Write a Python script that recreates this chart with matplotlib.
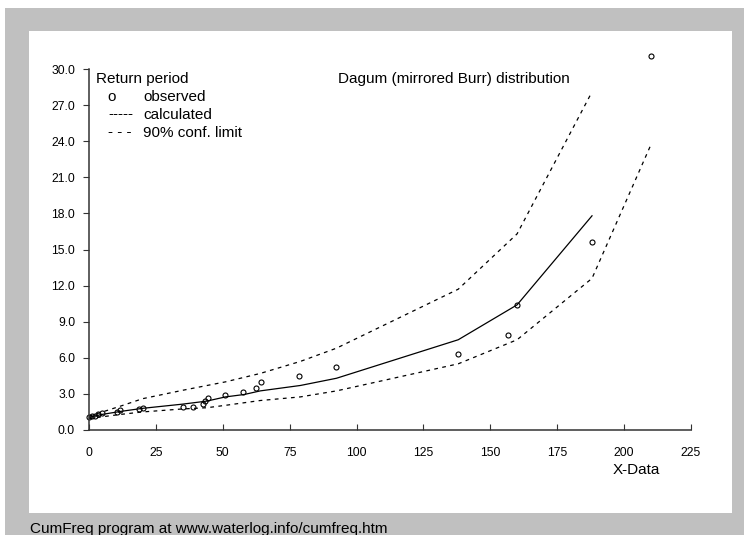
import matplotlib.pyplot as plt
from matplotlib.patches import Rectangle

# observed return periods
obs_x = [0.1, 1.0, 2.2, 3.5, 4.7, 10.3, 11.6, 18.8, 20.3, 35.2, 38.7, 42.5, 43.3,
         44.3, 50.7, 57.4, 62.4, 64.2, 78.6, 92.5, 137.8, 156.7, 159.8, 188.0, 210.0]
obs_y = [1.05, 1.14, 1.19, 1.33, 1.44, 1.52, 1.66, 1.72, 1.80, 1.89, 1.94, 2.20, 2.41,
         2.63, 2.88, 3.19, 3.46, 3.99, 4.49, 5.26, 6.30, 7.90, 10.40, 15.6, 31.1]

# calculated curve
calc_x = [0, 5, 12, 20, 35, 44, 51, 58, 64, 79, 92.5, 138, 160, 188]
calc_y = [1.05, 1.3, 1.55, 1.8, 2.15, 2.4, 2.75, 2.95, 3.25, 3.7, 4.3, 7.5, 10.4, 17.8]

# 90% confidence limits
up_x = [0, 5, 12, 20, 35, 51, 64, 79, 92.5, 138, 160, 188]
up_y = [1.15, 1.5, 2.0, 2.6, 3.3, 4.0, 4.7, 5.7, 6.8, 11.7, 16.3, 28.1]
lo_x = [0, 5, 12, 20, 35, 44, 51, 64, 79, 92.5, 138, 160, 188, 210]
lo_y = [0.95, 1.1, 1.3, 1.5, 1.75, 1.85, 2.05, 2.45, 2.75, 3.25, 5.5, 7.5, 12.6, 23.7]

xticks = [0, 25, 50, 75, 100, 125, 150, 175, 200, 225]
yticks = [0, 3, 6, 9, 12, 15, 18, 21, 24, 27, 30]

W, H = 744, 535
plt.rcParams['font.family'] = ['Liberation Sans', 'DejaVu Sans']

fig = plt.figure(figsize=(W / 100, H / 100), dpi=100)
fig.patch.set_facecolor('white')


def fx(px):
    return px / W


def fy(py):
    return 1 - py / H


# grey frame + white panel (screen capture look)
fig.patches.append(Rectangle((fx(5), 0), 1 - fx(5), fy(8), transform=fig.transFigure,
                             facecolor='#c0c0c0', edgecolor='none', zorder=-10))
fig.patches.append(Rectangle((fx(29), fy(513)), fx(732 - 29), (513 - 31) / H,
                             transform=fig.transFigure, facecolor='white',
                             edgecolor='none', zorder=-9))

ax = fig.add_axes([fx(89), fy(430), fx(691 - 89), (430 - 69) / H])
ax.patch.set_alpha(0)

ax.plot(calc_x, calc_y, color='black', lw=0.9)
ax.plot(up_x, up_y, color='black', lw=0.9, dashes=(3, 3.5))
ax.plot(lo_x, lo_y, color='black', lw=0.9, dashes=(3, 3.5))
ax.plot(obs_x, obs_y, 'o', ms=3.6, mfc='none', mec='black', mew=0.8, clip_on=False)

ax.set_xlim(0, 225)
ax.set_ylim(0, 30)
ax.set_xticks(xticks)
ax.set_yticks(yticks)
ax.set_yticklabels(['%.1f' % v for v in yticks])
for s in ['top', 'right']:
    ax.spines[s].set_visible(False)
for s in ['left', 'bottom']:
    ax.spines[s].set_color('#333333')
    ax.spines[s].set_linewidth(1.1)
ax.tick_params(axis='x', direction='in', length=4, pad=12, labelsize=8.7, color='#333333')
ax.tick_params(axis='y', direction='out', length=4, pad=6, labelsize=8.7, color='#333333')

fs = 11.0
fig.text(fx(96), fy(79), 'Return period', fontsize=fs, va='center')
fig.text(fx(107), fy(97), 'o', fontsize=fs, va='center')
fig.text(fx(143), fy(97), 'observed', fontsize=fs, va='center')
fig.text(fx(108), fy(114), '-----', fontsize=fs, va='center')
fig.text(fx(143), fy(115), 'calculated', fontsize=fs, va='center')
fig.text(fx(108), fy(132), '- - -', fontsize=fs, va='center')
fig.text(fx(143), fy(133), '90% conf. limit', fontsize=fs, va='center')
fig.text(fx(338), fy(79), 'Dagum (mirrored Burr) distribution', fontsize=fs, va='center')
fig.text(fx(613), fy(470), 'X-Data', fontsize=fs, va='center')
fig.text(fx(30), fy(529), 'CumFreq program at www.waterlog.info/cumfreq.htm',
         fontsize=fs, va='center')

fig.savefig('out.png', dpi=100)
